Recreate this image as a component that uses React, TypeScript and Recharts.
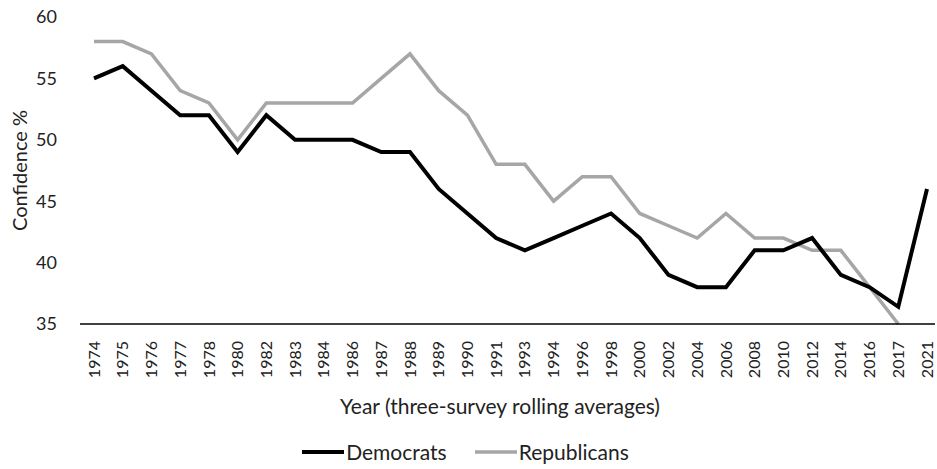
import React from 'react';
import { LineChart, Line, XAxis, YAxis, Legend, Label } from 'recharts';

const years = [
  '1974', '1975', '1976', '1977', '1978', '1980', '1982', '1983', '1984', '1986',
  '1987', '1988', '1989', '1990', '1991', '1993', '1994', '1996', '1998', '2000',
  '2002', '2004', '2006', '2008', '2010', '2012', '2014', '2016', '2017', '2021',
];

const democrats = [
  55, 56, 54, 52, 52, 49, 52, 50, 50, 50,
  49, 49, 46, 44, 42, 41, 42, 43, 44, 42,
  39, 38, 38, 41, 41, 42, 39, 38, 36.4, 46,
];

const republicans = [
  58, 58, 57, 54, 53, 50, 53, 53, 53, 53,
  55, 57, 54, 52, 48, 48, 45, 47, 47, 44,
  43, 42, 44, 42, 42, 41, 41, 38, 35, null,
];

const yTicks = [35, 40, 45, 50, 55, 60];

const data = years.map((year, i) => ({
  year,
  democrats: democrats[i],
  republicans: republicans[i],
}));

const FONT = 'Lato, "Open Sans", sans-serif';

const YearTick = ({ x, y, payload }: any) => (
  <g transform={`translate(${x},${y + 9})`}>
    <text transform="rotate(-90)" textAnchor="end" dy="0.35em" fontSize={16} fill="#222" fontFamily={FONT}>
      {payload.value}
    </text>
  </g>
);

const YTitle = ({ viewBox }: any) => (
  <text
    transform={`translate(19,${viewBox.y + viewBox.height / 2}) rotate(-90)`}
    textAnchor="middle"
    dominantBaseline="central"
    fontSize={20}
    fill="#222"
    fontFamily={FONT}
  >
    Confidence %
  </text>
);

const XTitle = () => (
  <text
    x={500}
    y={405}
    textAnchor="middle"
    dominantBaseline="central"
    fontSize={21}
    fill="#222"
    fontFamily={FONT}
  >
    Year (three-survey rolling averages)
  </text>
);

const legendItems = [
  { label: 'Democrats', color: '#000000', width: 4 },
  { label: 'Republicans', color: '#a6a6a6', width: 3.5 },
];

const ChartLegend = () => (
  <div style={{ display: 'flex', justifyContent: 'center', gap: 28, fontFamily: FONT, fontSize: 21, color: '#222', paddingRight: 4 }}>
    {legendItems.map((item) => (
      <div key={item.label} style={{ display: 'flex', alignItems: 'center' }}>
        <svg width={42} height={10}>
          <line x1={0} y1={5} x2={42} y2={5} stroke={item.color} strokeWidth={item.width} />
        </svg>
        <span style={{ marginLeft: 2 }}>{item.label}</span>
      </div>
    ))}
  </div>
);

export default function App() {
  return (
    <div style={{ position: 'absolute', left: 0, top: 0, background: '#fff' }}>
      <LineChart width={937} height={469} data={data} margin={{ top: 17, right: 2, bottom: 0, left: 0 }}>
        <XAxis
          dataKey="year"
          interval={0}
          tick={<YearTick />}
          tickLine={false}
          axisLine={{ stroke: '#000', strokeWidth: 1.5 }}
          padding={{ left: 14, right: 8 }}
          height={115}
        >
          <Label content={<XTitle />} />
        </XAxis>
        <YAxis
          domain={[35, 60]}
          ticks={yTicks}
          width={80}
          axisLine={false}
          tickLine={false}
          tickSize={0}
          tickMargin={23}
          tick={{ fontSize: 18, fill: '#222', fontFamily: FONT }}
        >
          <Label content={<YTitle />} />
        </YAxis>
        <Legend verticalAlign="bottom" height={30} content={<ChartLegend />} />
        <Line
          type="linear"
          dataKey="republicans"
          stroke="#a6a6a6"
          strokeWidth={3.5}
          dot={false}
          isAnimationActive={false}
        />
        <Line
          type="linear"
          dataKey="democrats"
          stroke="#000000"
          strokeWidth={4}
          dot={false}
          isAnimationActive={false}
        />
      </LineChart>
    </div>
  );
}
